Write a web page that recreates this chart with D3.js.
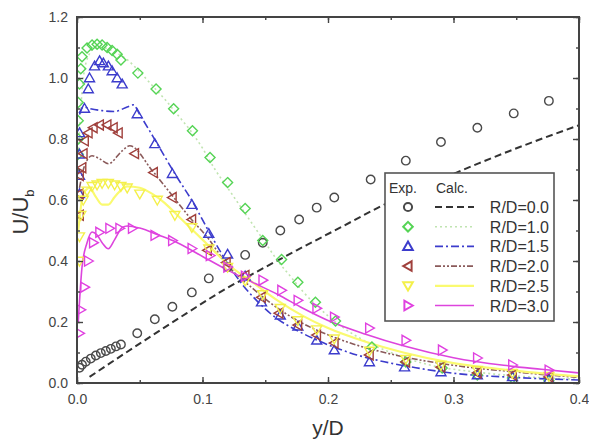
<!DOCTYPE html>
<html><head><meta charset="utf-8">
<script src="https://cdn.jsdelivr.net/npm/d3@7/dist/d3.min.js"></script>
<style>body{margin:0;background:#fff}svg{display:block}text{font-family:"Liberation Sans",Arial,sans-serif}</style>
</head><body><svg id="c" width="589" height="443"></svg>
<script>
// ---- data ----
const seriesNames = ["R/D=0.0","R/D=1.0","R/D=1.5","R/D=2.0","R/D=2.5","R/D=3.0"];
const xTicks = [0.0,0.1,0.2,0.3,0.4];
const yTicks = [0.0,0.2,0.4,0.6,0.8,1.0,1.2];

const exp00 = [[0.002,0.05],[0.004,0.06],[0.007,0.07],[0.011,0.08],[0.015,0.09],[0.019,0.098],[0.023,0.105],[0.027,0.112],[0.031,0.12],[0.035,0.126],
 [0.048,0.163],[0.062,0.209],[0.076,0.25],[0.0915,0.297],[0.105,0.343],[0.12,0.38],[0.134,0.42],[0.148,0.46],[0.162,0.50],[0.177,0.536],[0.191,0.575],[0.205,0.608],
 [0.234,0.667],[0.262,0.729],[0.29,0.79],[0.319,0.837],[0.348,0.884],[0.376,0.925]];
const calc00 = [[0.01,0.02],[0.03,0.075],[0.054,0.14],[0.0875,0.229],[0.119,0.31],[0.138,0.353],[0.175,0.435],[0.21,0.51],[0.24,0.575],[0.28,0.65],[0.32,0.72],[0.36,0.785],[0.4,0.845]];

const exp10 = [[0.001,0.75],[0.001,0.8],[0.001,0.86],[0.001,0.92],[0.002,0.98],[0.003,1.03],[0.004,1.07],[0.008,1.098],[0.012,1.108],[0.016,1.111],[0.02,1.108],[0.024,1.10],[0.028,1.09],[0.032,1.078],[0.035,1.059],
 [0.0485,1.016],[0.063,0.964],[0.077,0.899],[0.092,0.827],[0.106,0.739],[0.12,0.657],[0.134,0.572],[0.148,0.467],[0.163,0.405],[0.176,0.33],[0.19,0.265],[0.206,0.203],
 [0.235,0.118],[0.262,0.069],[0.291,0.049],[0.319,0.026],[0.347,0.016],[0.376,0.007]];
const calc10 = [[0.001,0.75],[0.005,1.0],[0.01,1.08],[0.015,1.1],[0.02,1.1],[0.03,1.085],[0.04,1.06],[0.05,1.02],[0.06,0.975],[0.07,0.93],[0.08,0.88],[0.09,0.83],[0.1,0.77],[0.11,0.7],[0.12,0.64],[0.13,0.58],[0.14,0.52],[0.15,0.46],[0.16,0.4],[0.17,0.35],[0.18,0.3],[0.2,0.22],[0.22,0.16],[0.25,0.1],[0.28,0.06],[0.32,0.035],[0.36,0.02],[0.4,0.012]];

const exp15 = [[0.002,0.62],[0.002,0.68],[0.002,0.75],[0.002,0.82],[0.006,0.90],[0.009,0.964],[0.010,1.0],[0.014,1.039],[0.018,1.056],[0.021,1.049],[0.025,1.039],[0.028,1.023],[0.032,1.0],[0.036,0.98],
 [0.048,0.882],[0.062,0.784],[0.076,0.686],[0.0915,0.585],[0.105,0.49],[0.12,0.422],[0.134,0.35],[0.147,0.265],[0.162,0.222],[0.176,0.186],[0.191,0.14],[0.205,0.108],
 [0.233,0.069],[0.261,0.052],[0.29,0.036],[0.319,0.026],[0.347,0.02],[0.376,0.013]];
const calc15 = [[0.002,0.88],[0.005,0.905],[0.01,0.9],[0.02,0.893],[0.03,0.89],[0.04,0.905],[0.045,0.912],[0.05,0.88],[0.064,0.784],[0.078,0.686],[0.092,0.595],[0.106,0.49],[0.122,0.379],[0.131,0.327],[0.143,0.271],[0.159,0.212],[0.175,0.173],[0.191,0.141],[0.207,0.114],[0.223,0.092],[0.239,0.075],[0.27,0.05],[0.3,0.032],[0.35,0.018],[0.4,0.01]];

const exp20 = [[0.002,0.55],[0.002,0.62],[0.002,0.68],[0.004,0.706],[0.005,0.752],[0.006,0.794],[0.009,0.82],[0.013,0.837],[0.018,0.846],[0.024,0.846],[0.029,0.837],[0.033,0.82],
 [0.046,0.752],[0.061,0.69],[0.076,0.608],[0.0915,0.536],[0.104,0.435],[0.119,0.395],[0.134,0.353],[0.147,0.281],[0.161,0.229],[0.176,0.19],[0.191,0.157],[0.205,0.131],
 [0.233,0.092],[0.262,0.069],[0.29,0.052],[0.319,0.033],[0.347,0.026],[0.376,0.02]];
const calc20 = [[0.002,0.64],[0.006,0.712],[0.012,0.745],[0.018,0.735],[0.025,0.719],[0.036,0.761],[0.042,0.778],[0.06,0.696],[0.076,0.614],[0.09,0.542],[0.104,0.477],[0.12,0.386],[0.14,0.31],[0.16,0.245],[0.18,0.195],[0.2,0.158],[0.22,0.128],[0.25,0.095],[0.3,0.058],[0.35,0.036],[0.4,0.018]];

const exp25 = [[0.002,0.4],[0.002,0.48],[0.003,0.55],[0.005,0.6],[0.008,0.63],[0.012,0.645],[0.016,0.65],[0.02,0.655],[0.025,0.655],[0.03,0.65],[0.035,0.645],[0.04,0.64],
 [0.05,0.62],[0.064,0.6],[0.078,0.55],[0.0915,0.51],[0.105,0.44],[0.12,0.38],[0.134,0.335],[0.148,0.29],[0.162,0.245],[0.176,0.205],[0.191,0.175],[0.205,0.145],
 [0.233,0.105],[0.262,0.078],[0.29,0.058],[0.319,0.042],[0.347,0.032],[0.376,0.022]];
const calc25 = [[0.001,0.5],[0.005,0.62],[0.01,0.64],[0.015,0.61],[0.02,0.585],[0.025,0.585],[0.03,0.61],[0.04,0.645],[0.05,0.64],[0.06,0.62],[0.07,0.59],[0.08,0.55],[0.09,0.51],[0.1,0.47],[0.11,0.43],[0.12,0.39],[0.14,0.33],[0.16,0.27],[0.18,0.22],[0.2,0.18],[0.23,0.135],[0.26,0.1],[0.3,0.065],[0.35,0.04],[0.4,0.022]];

const exp30 = [[0.002,0.163],[0.003,0.24],[0.006,0.314],[0.009,0.40],[0.013,0.46],[0.018,0.494],[0.026,0.507],[0.034,0.507],[0.044,0.507],[0.062,0.484],[0.076,0.467],[0.0915,0.441],[0.106,0.418],[0.12,0.38],[0.134,0.35],
 [0.148,0.337],[0.163,0.304],[0.176,0.271],[0.191,0.245],[0.205,0.216],[0.233,0.18],[0.262,0.14],[0.291,0.108],[0.319,0.082],[0.347,0.059],[0.376,0.042]];
const calc30 = [[0.001,0.2],[0.004,0.38],[0.008,0.46],[0.012,0.495],[0.016,0.485],[0.02,0.46],[0.025,0.44],[0.03,0.47],[0.036,0.51],[0.04,0.515],[0.05,0.508],[0.065,0.485],[0.08,0.46],[0.1,0.415],[0.12,0.37],[0.14,0.33],[0.16,0.29],[0.18,0.245],[0.2,0.205],[0.23,0.16],[0.26,0.122],[0.3,0.083],[0.34,0.058],[0.37,0.045],[0.4,0.033]];

const expData = [exp00,exp10,exp15,exp20,exp25,exp30];
const calcData = [calc00,calc10,calc15,calc20,calc25,calc30];

// ---- styles ----
const colors = ["#4a4a4a","#55d455","#3c3ccc","#a0403c","#f4f04a","#e040e0"];
const lineColors = ["#333333","#c0e4b0","#3c3ccc","#8a5a5a","#fafa70","#dd44dd"];
const dashes = ["7,4","2,3","8,3,2,3","6,2,2,2,2,2",null,null];
const lineWidths = [2,1.6,1.6,1.6,2.2,1.6];
const shapes = ["circle","diamond","up","left","down","right"];

const svg = d3.select("#c");
const L=77,R=579,T=17,B=383;
const x = d3.scaleLinear().domain([0,0.4]).range([L,R]);
const y = d3.scaleLinear().domain([0,1.2]).range([B,T]);

function markerPath(shape,s){
  const p=d3.path();
  if(shape==="circle"){p.arc(0,0,s*0.85,0,2*Math.PI);return p.toString();}
  if(shape==="diamond"){p.moveTo(0,-s);p.lineTo(s,0);p.lineTo(0,s);p.lineTo(-s,0);p.closePath();return p.toString();}
  const pts={up:[[0,-s],[s,s*0.75],[-s,s*0.75]],down:[[0,s],[s,-s*0.75],[-s,-s*0.75]],
             left:[[-s,0],[s*0.75,-s],[s*0.75,s]],right:[[s,0],[-s*0.75,-s],[-s*0.75,s]]}[shape];
  p.moveTo(pts[0][0],pts[0][1]);p.lineTo(pts[1][0],pts[1][1]);p.lineTo(pts[2][0],pts[2][1]);p.closePath();
  return p.toString();
}

svg.append("clipPath").attr("id","pc").append("rect").attr("x",L).attr("y",T).attr("width",R-L).attr("height",B-T);
const plot = svg.append("g").attr("clip-path","url(#pc)");
const line = d3.line().x(d=>x(d[0])).y(d=>y(d[1])).curve(d3.curveMonotoneX);

calcData.forEach((d,i)=>{
  plot.append("path").datum(d).attr("d",line).attr("fill","none")
    .attr("stroke",lineColors[i]).attr("stroke-width",lineWidths[i])
    .attr("stroke-dasharray",dashes[i]);
});
expData.forEach((d,i)=>{
  plot.append("g").selectAll("path").data(d).join("path")
    .attr("transform",p=>`translate(${x(p[0])},${y(p[1])})`)
    .attr("d",markerPath(shapes[i],5)).attr("fill","none")
    .attr("stroke",colors[i]).attr("stroke-width",1.4);
});

// ---- axes ----
const axCol="#444";
function styleAxis(g){g.select(".domain").remove();g.selectAll("line").attr("stroke",axCol).attr("stroke-width",1.4);
  g.selectAll("text").attr("fill","#444").attr("font-size",14);}
const xMinor = d3.range(0,0.4001,0.05);
const yMinor = d3.range(0,1.2001,0.1);
svg.append("g").attr("transform",`translate(0,${B})`).call(d3.axisBottom(x).tickValues(xTicks).tickFormat(d3.format(".1f")).tickSizeInner(-6).tickPadding(11)).call(styleAxis);
svg.append("g").attr("transform",`translate(0,${B})`).call(d3.axisBottom(x).tickValues(xMinor).tickFormat("").tickSizeInner(-3)).call(styleAxis);
svg.append("g").attr("transform",`translate(0,${T})`).call(d3.axisTop(x).tickValues(xTicks).tickFormat("").tickSizeInner(-6)).call(styleAxis);
svg.append("g").attr("transform",`translate(0,${T})`).call(d3.axisTop(x).tickValues(xMinor).tickFormat("").tickSizeInner(-3)).call(styleAxis);
svg.append("g").attr("transform",`translate(${L},0)`).call(d3.axisLeft(y).tickValues(yTicks).tickFormat(d3.format(".1f")).tickSizeInner(-6).tickPadding(9)).call(styleAxis);
svg.append("g").attr("transform",`translate(${L},0)`).call(d3.axisLeft(y).tickValues(yMinor).tickFormat("").tickSizeInner(-3)).call(styleAxis);
svg.append("g").attr("transform",`translate(${R},0)`).call(d3.axisRight(y).tickValues(yTicks).tickFormat("").tickSizeInner(-6)).call(styleAxis);
svg.append("g").attr("transform",`translate(${R},0)`).call(d3.axisRight(y).tickValues(yMinor).tickFormat("").tickSizeInner(-3)).call(styleAxis);
svg.append("rect").attr("x",L).attr("y",T).attr("width",R-L).attr("height",B-T).attr("fill","none").attr("stroke",axCol).attr("stroke-width",2);

// axis titles
svg.append("text").attr("x",(L+R)/2).attr("y",435).attr("text-anchor","middle").attr("font-size",21).attr("fill","#333").text("y/D");
const yl = svg.append("text").attr("transform","translate(28,212) rotate(-90)").attr("text-anchor","middle").attr("font-size",22).attr("fill","#333");
yl.append("tspan").text("U/U");
yl.append("tspan").attr("font-size",13).attr("dy",6).text("b");

// ---- legend ----
const lg = svg.append("g");
lg.append("rect").attr("x",385).attr("y",173).attr("width",169).attr("height",148).attr("fill","#fff").attr("stroke","#555").attr("stroke-width",1.6);
lg.append("text").attr("x",389).attr("y",193).attr("font-size",14).attr("fill","#333").text("Exp.");
lg.append("text").attr("x",436).attr("y",193).attr("font-size",14).attr("fill","#333").text("Calc.");
seriesNames.forEach((n,i)=>{
  const yy = 207 + i*19.7;
  lg.append("path").attr("transform",`translate(408,${yy})`).attr("d",markerPath(shapes[i],4.8)).attr("fill","none").attr("stroke",colors[i]).attr("stroke-width",2);
  lg.append("line").attr("x1",435).attr("x2",474).attr("y1",yy).attr("y2",yy).attr("stroke",lineColors[i]).attr("stroke-width",lineWidths[i]).attr("stroke-dasharray",dashes[i]);
  lg.append("text").attr("x",549).attr("y",yy+6).attr("text-anchor","end").attr("font-size",16).attr("fill","#333").text(n);
});
</script></body></html>
